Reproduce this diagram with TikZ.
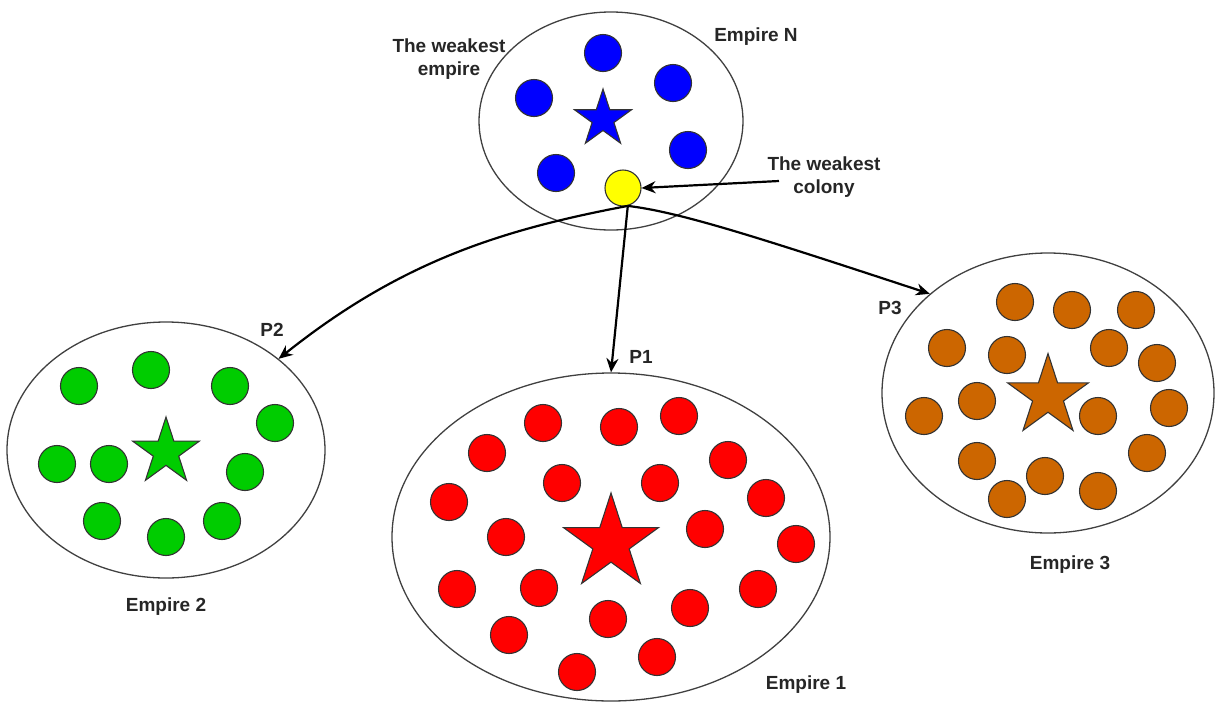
\documentclass[tikz,border=0pt]{standalone}
\usepackage{fontspec}
\setmainfont{Liberation Sans}
\usetikzlibrary{shapes.geometric,arrows.meta}
\definecolor{cblue}{RGB}{0,0,255}
\definecolor{cgreen}{RGB}{0,204,0}
\definecolor{cred}{RGB}{255,0,0}
\definecolor{cbrown}{RGB}{204,102,0}
\definecolor{cyellow}{RGB}{255,255,0}
\begin{document}
\begin{tikzpicture}[x=1pt,y=-1pt,
  empire/.style={ellipse, draw=black!75, line width=1.3pt, inner sep=0pt},
  colony/.style={circle, draw=black!80, line width=1.1pt, minimum size=37pt, inner sep=0pt},
  ruler/.style={star, star points=5, star point ratio=2.618, draw=black!80, line width=1.1pt, inner sep=0pt},
  lbl/.style={font=\bfseries\fontsize{19}{23.5}\selectfont, text=black!85, align=center, inner sep=0pt},
  link/.style={-{Stealth[length=14pt,width=12pt]}, line width=2.2pt, black}
]
\useasboundingbox (0,0) rectangle (1216,702);

% empires
\node[empire, minimum width=264pt, minimum height=218pt] (eN) at (611,121) {};
\node[empire, minimum width=318pt, minimum height=256pt] (e2) at (166,450) {};
\node[empire, minimum width=438pt, minimum height=328pt] (e1) at (611,537) {};
\node[empire, minimum width=332pt, minimum height=280pt] (e3) at (1048,393) {};

% Empire N
\node[ruler, fill=cblue, minimum size=60pt] (sN) at (603,119) {};
\foreach \px/\py [count=\i] in {603/53, 534/98, 673/83, 688/150, 556/173}
  \node[colony, fill=cblue] (n\i) at (\px,\py) {};
\node[colony, fill=cyellow, minimum size=36pt] (weak) at (623,188) {};

% Empire 2
\node[ruler, fill=cgreen, minimum size=70pt] (s2) at (166,452) {};
\foreach \px/\py [count=\i] in {79/386, 151/370, 230/386, 275/423, 57/464,
    109/464, 245/472, 102/521, 166/537, 222/521}
  \node[colony, fill=cgreen] (g\i) at (\px,\py) {};

% Empire 1
\node[ruler, fill=cred, minimum size=100pt] (s1) at (611,543) {};
\foreach \px/\py [count=\i] in {543/423, 619/427, 679/416, 487/453, 728/460,
    562/483, 660/483, 449/502, 766/498, 506/537, 705/529, 796/544, 457/589,
    539/588, 758/589, 608/619, 690/608, 509/635, 657/657, 577/672}
  \node[colony, fill=cred] (r\i) at (\px,\py) {};

% Empire 3
\node[ruler, fill=cbrown, minimum size=85pt] (s3) at (1048,396) {};
\foreach \px/\py [count=\i] in {1015/302, 1072/310, 1136/310, 947/348, 1007/355,
    1109/348, 1157/363, 924/416, 977/401, 1098/416, 1169/408, 1147/453,
    977/461, 1045/476, 1007/499, 1098/491}
  \node[colony, fill=cbrown] (o\i) at (\px,\py) {};

% labels
\node[lbl] (tEmp) at (449,59) {The weakest\\empire};
\node[lbl] (tN) at (756,37) {Empire N};
\node[lbl] (tCol) at (824,177) {The weakest\\colony};
\node[lbl] (tP2) at (272,330) {P2};
\node[lbl] (tP1) at (641,357) {P1};
\node[lbl] (tP3) at (890,308) {P3};
\node[lbl] (t2) at (166,607) {Empire 2};
\node[lbl] (t1) at (806,685) {Empire 1};
\node[lbl] (t3) at (1070,565) {Empire 3};

% connectors
\coordinate (split) at (weak.-75);
\coordinate (ctail) at (779,181);
\draw[link] (ctail) -- (weak.east);
\draw[link] (split) -- (e1.north);
\draw[link] (split) .. controls (500,230) and (400,262) .. (e2.39);
\draw[link] (split) .. controls (680,212) and (760,238) .. (e3.140);
\end{tikzpicture}
\end{document}
